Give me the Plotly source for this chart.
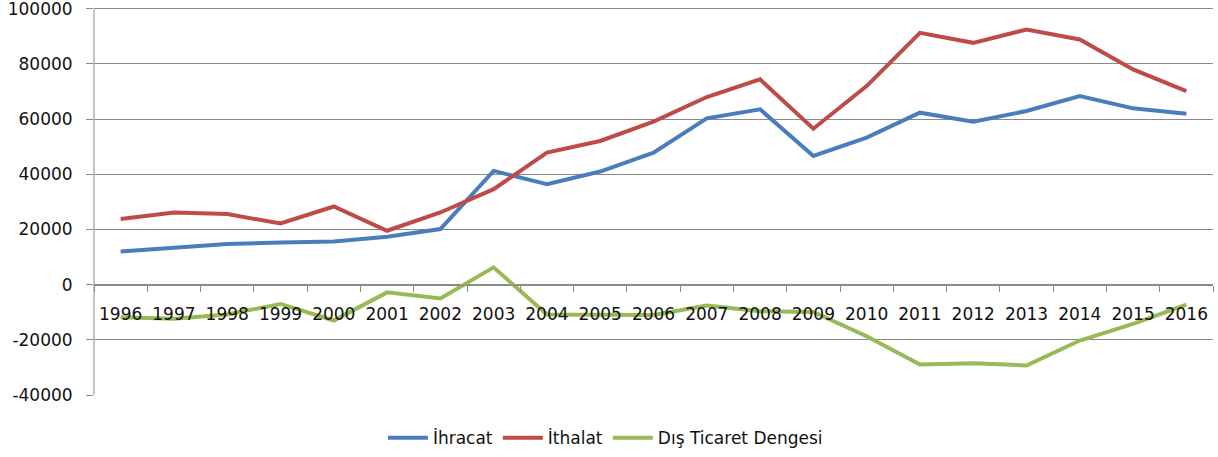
import plotly.graph_objects as go

years = [str(y) for y in range(1996, 2017)]
ihracat = [12050, 13500, 14700, 15300, 15660, 17360, 20140, 41230, 36420, 41000,
           47850, 60290, 63550, 46660, 53280, 62330, 59070, 62940, 68360, 63910, 61960]
ithalat = [23770, 26150, 25570, 22170, 28330, 19530, 26150, 34600, 47850, 52080,
           59070, 68000, 74400, 56530, 71980, 91260, 87650, 92480, 88870, 78020, 70170]
denge = [-11800, -12400, -10800, -7000, -13000, -2800, -5000, 6260, -10800, -11000,
         -11000, -7600, -9600, -9900, -18700, -28940, -28460, -29300, -20250, -14200, -7230]
ytick_vals = [-40000, -20000, 0, 20000, 40000, 60000, 80000, 100000]

names = ["İhracat", "İthalat", "Dış Ticaret Dengesi"]
colors = ["#4A7EBB", "#BE4B48", "#98B954"]
series = [ihracat, ithalat, denge]

fig = go.Figure()
for n, c, s in zip(names, colors, series):
    fig.add_trace(go.Scatter(x=years, y=s, name=n, mode="lines",
                             line=dict(color=c, width=4)))

grid = "#8a8a8a"
ymin, ymax = -40000, 101000
fig.update_layout(
    width=1218, height=457,
    margin=dict(l=94, r=5, t=6, b=62, autoexpand=False),
    paper_bgcolor="white", plot_bgcolor="white",
    font=dict(family="DejaVu Sans", size=17, color="#111"),
    showlegend=True,
    legend=dict(orientation="h", x=0.457, xanchor="center", y=-0.111, yanchor="middle",
                font=dict(size=17), itemwidth=40, traceorder="normal"),
    xaxis=dict(type="category", range=[-0.5, 20.5], anchor="free",
               position=(0 - ymin) / (ymax - ymin), automargin=False,
               showline=True, linecolor=grid, linewidth=1,
               ticks="outside", ticklen=6, tickcolor=grid, tickson="boundaries",
               showgrid=False, ticklabelstandoff=14, zeroline=False,
               ticklabeloverflow="allow"),
    yaxis=dict(range=[ymin, ymax], tickmode="array", tickvals=ytick_vals,
               ticktext=[str(v) for v in ytick_vals], automargin=False,
               showgrid=True, gridcolor=grid, gridwidth=1,
               zeroline=True, zerolinecolor=grid, zerolinewidth=1,
               showline=False, ticklabeloverflow="allow",
               ticks="outside", ticklen=7, tickcolor=grid,
               ticklabelstandoff=10),
    shapes=[dict(type="line", xref="paper", yref="y", x0=0, x1=0, y0=ymin, y1=100000,
                 line=dict(color=grid, width=1), layer="below")],
)
fig.write_html("out.html", config={"displayModeBar": False},
               post_script="document.body.style.margin='0';document.body.style.overflow='hidden';")
